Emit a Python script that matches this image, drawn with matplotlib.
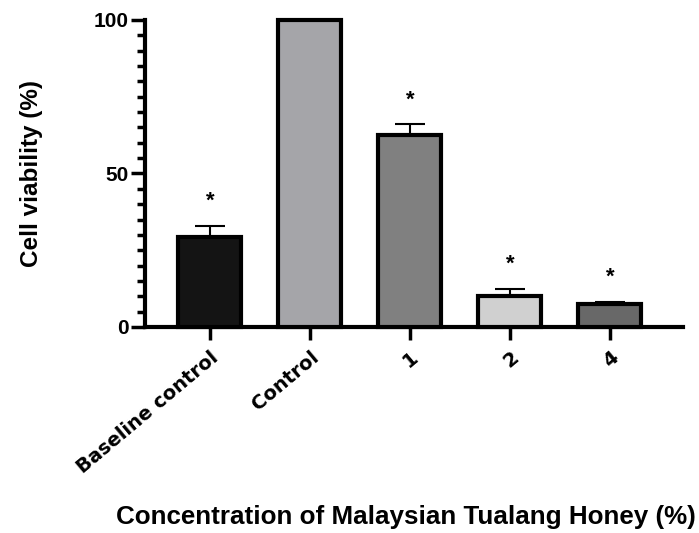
'''Cell viability after Tualang honey treatment.'''

import matplotlib
matplotlib.use('Agg')
import matplotlib.pyplot as plt
import numpy as np

categories = ['Baseline control', 'Control', '1', '2', '4']
viability = [29.3, 100.0, 62.5, 10.1, 7.5]
sem = [3.6, 0.0, 3.6, 2.3, 0.7]
significant = [True, False, True, True, True]
bar_colors = ['#141414', '#a5a5a9', '#808080', '#d0d0d0', '#686868']

plt.rcParams['font.family'] = ['Liberation Sans', 'DejaVu Sans']

fig = plt.figure(figsize=(6.99, 5.33), dpi=100)
ax = fig.add_axes([0.2074, 0.3865, 0.7696, 0.576])

x = np.arange(len(categories))
bars = ax.bar(x, viability, width=0.63, color=bar_colors,
              edgecolor='black', linewidth=3, zorder=3)
for b in bars:
    b.set_clip_on(False)

# only the upper half of the error bar, Prism style
ax.errorbar(x, viability, yerr=[np.zeros(len(sem)), sem], fmt='none',
            ecolor='black', elinewidth=1.5, capsize=11, capthick=1.5,
            zorder=2)

# significance marks
for xi, v, e, s in zip(x, viability, sem, significant):
    if s:
        ax.text(xi, v + e + 4.5, '*', ha='center', va='bottom',
                fontsize=16, fontweight='bold', zorder=4)

ax.set_xlim(-0.65, 4.73)
ax.set_ylim(0, 100)

for side in ['top', 'right']:
    ax.spines[side].set_visible(False)
ax.spines['left'].set_linewidth(3)
ax.spines['bottom'].set_linewidth(3)

ax.set_yticks([0, 50, 100])
ax.set_yticks(np.arange(0, 101, 5), minor=True)
ax.set_yticklabels(['0', '50', '100'], fontsize=15, fontweight='bold')
ax.tick_params(axis='y', which='major', length=10, width=2.5, pad=2)
ax.tick_params(axis='y', which='minor', length=6, width=2.5)

ax.set_xticks(x)
ax.set_xticklabels(categories, rotation=40, ha='right',
                   rotation_mode='anchor', fontsize=14,
                   fontweight='bold', family=['DejaVu Sans'])
ax.tick_params(axis='x', length=9, width=2.5, pad=6)

ax.set_ylabel('Cell viability (%)', fontsize=17.5, fontweight='bold',
              labelpad=36)
fig.text(0.995, 0.008, 'Concentration of Malaysian Tualang Honey (%)',
         ha='right', va='bottom', fontsize=18.7, fontweight='bold')

fig.savefig('out.png', dpi=100)
